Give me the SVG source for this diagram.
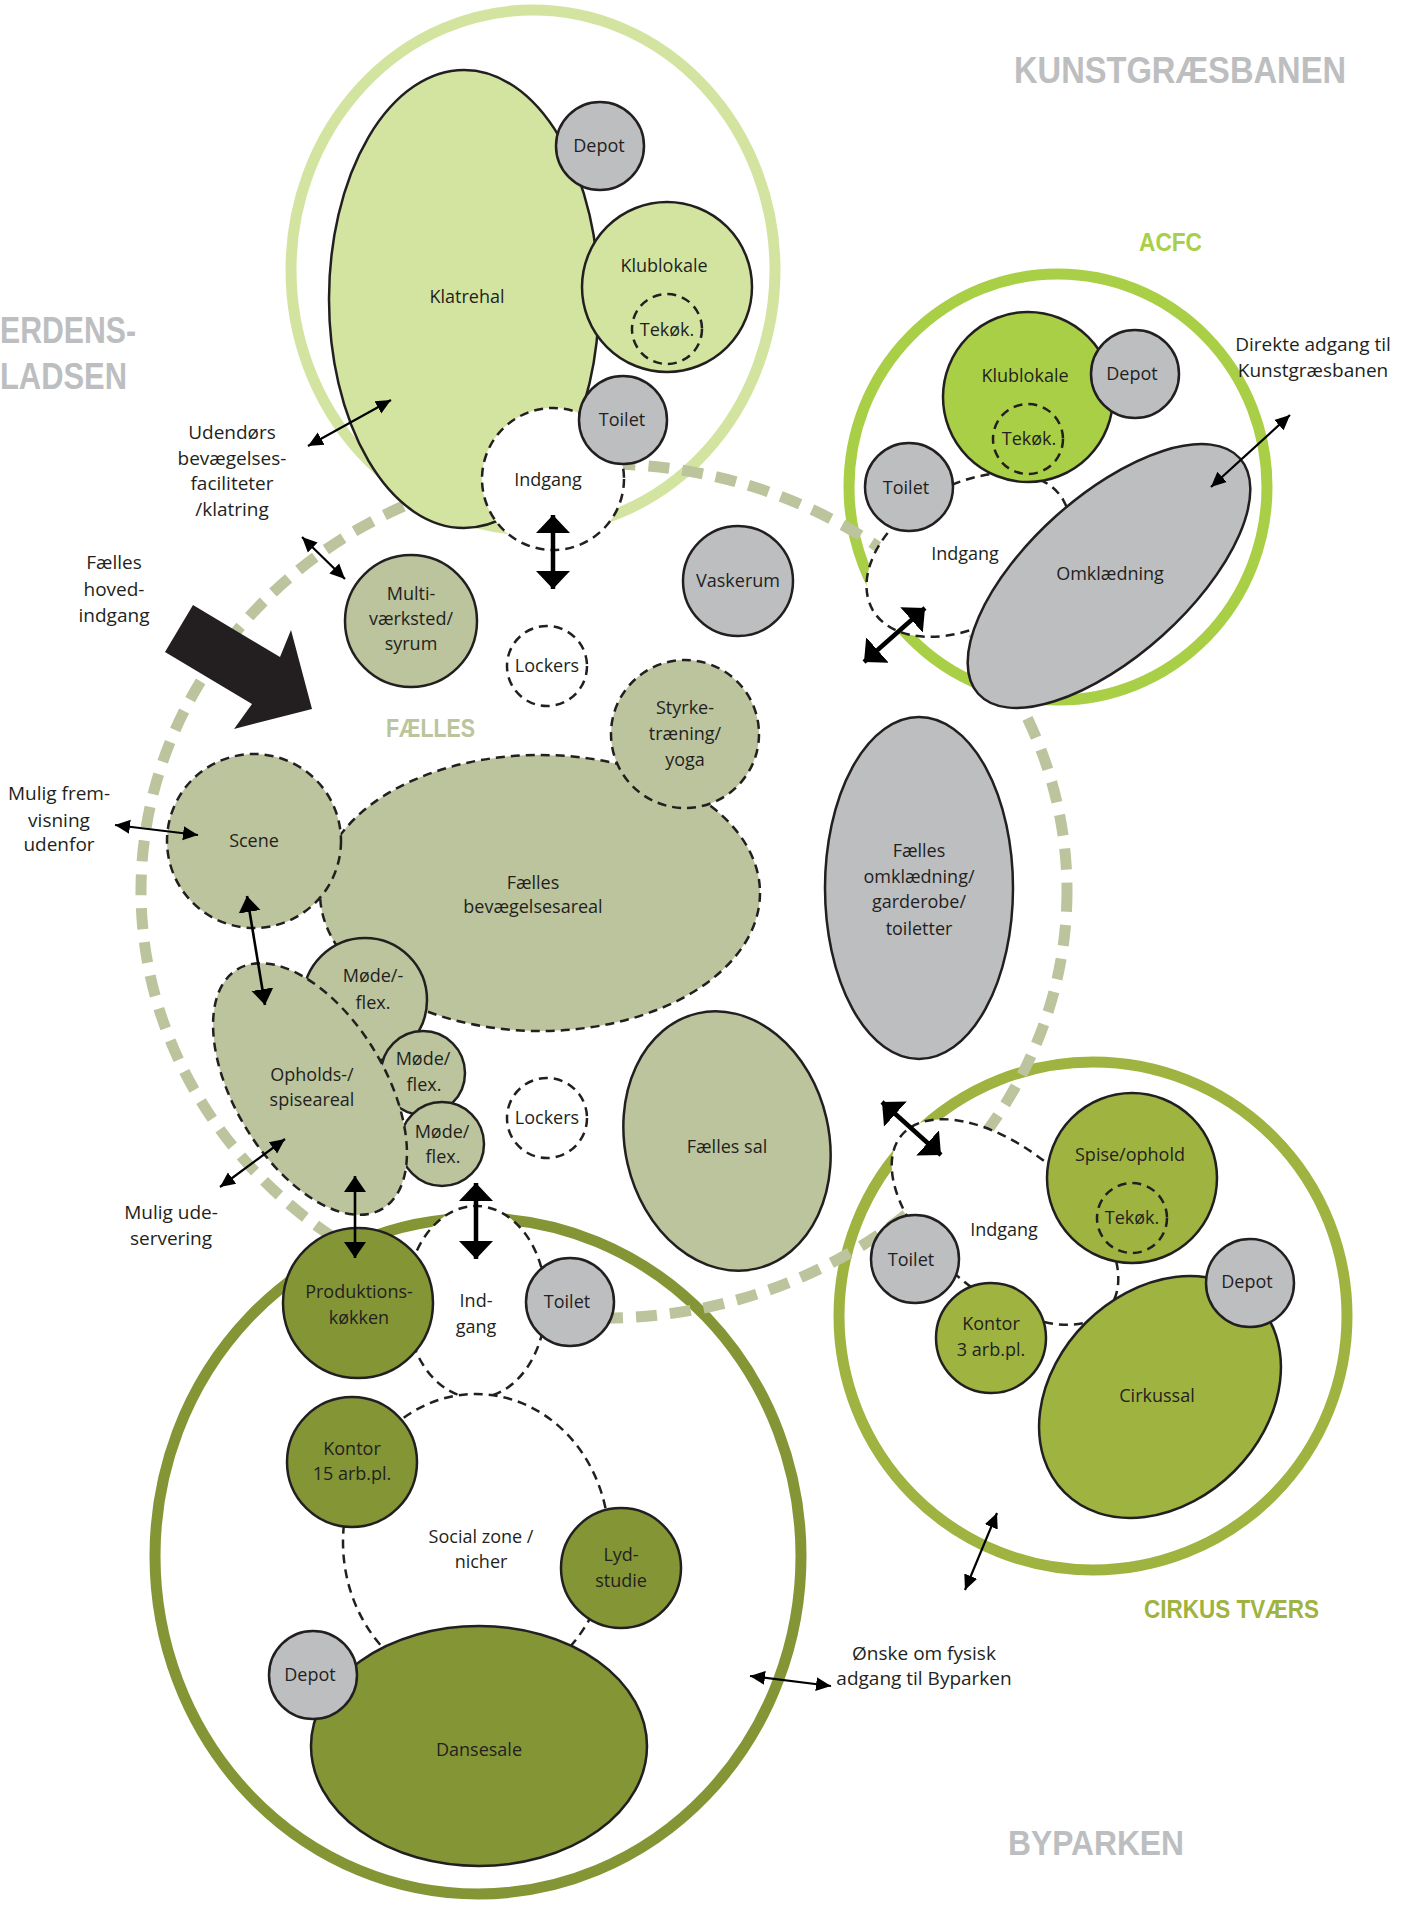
<svg xmlns="http://www.w3.org/2000/svg" width="1410" height="1905" viewBox="0 0 1410 1905">
<defs>
<style>
.t{font-family:"Open Sans","Noto Sans",sans-serif;font-size:18px;fill:#231f20;text-anchor:middle}
.a{font-size:19px}
.h{font-family:"Liberation Sans",Arial,sans-serif;font-weight:bold;text-anchor:start}
.n{stroke:#231f20;stroke-width:2.5}
.d{stroke-dasharray:9 6}
.gray{fill:#bcbec0}.lg{fill:#d3e4a1}.sage{fill:#bbc49c}.ac{fill:#a9cf46}.ol{fill:#849536}.ci{fill:#9fb340}.w{fill:#fff}
.ring{fill:none;stroke-width:11}
.arT{stroke:#000;stroke-width:2.2;fill:none;marker-start:url(#mT);marker-end:url(#mT)}
.arM{stroke:#000;stroke-width:2.6;fill:none;marker-start:url(#mM);marker-end:url(#mM)}
.arB{stroke:#000;stroke-width:4.5;fill:none;marker-start:url(#mB);marker-end:url(#mB)}
</style>
<marker id="mT" markerUnits="userSpaceOnUse" markerWidth="16" markerHeight="16" viewBox="0 -8 16 16" refX="15" refY="0" orient="auto-start-reverse"><path d="M0,-7 L15,0 L0,7 z" fill="#000"/></marker>
<marker id="mM" markerUnits="userSpaceOnUse" markerWidth="18" markerHeight="24" viewBox="0 -12 18 24" refX="16" refY="0" orient="auto-start-reverse"><path d="M0,-11 L16,0 L0,11 z" fill="#000"/></marker>
<marker id="mB" markerUnits="userSpaceOnUse" markerWidth="20" markerHeight="36" viewBox="0 -18 20 36" refX="18" refY="0" orient="auto-start-reverse"><path d="M0,-17 L18,0 L0,17 z" fill="#000"/></marker>
</defs>
<rect width="1410" height="1905" fill="#fff"/>

<!-- group outer rings -->
<g id="rings">
<ellipse cx="533" cy="270" rx="242" ry="260" class="ring" stroke="#d3e4a1"/>
<ellipse cx="1058" cy="487" rx="209" ry="213" class="ring" stroke="#a9cf46"/>
<ellipse cx="478" cy="1556" rx="323" ry="338" class="ring" stroke="#849536"/>
<circle cx="1093" cy="1316" r="254" class="ring" stroke="#9fb340"/>
</g>
<g id="faelles-ring">
<ellipse cx="604" cy="891" rx="463" ry="427" fill="none" stroke="#bbc49c" stroke-width="11" stroke-dasharray="21 13"/>
</g>

<!-- headings -->
<g id="headings">
<text class="h" x="1014" y="83" font-size="37" fill="#bcbec0" textLength="332" lengthAdjust="spacingAndGlyphs">KUNSTGRÆSBANEN</text>
<text class="h" x="0" y="343" font-size="36" fill="#bcbec0" textLength="136" lengthAdjust="spacingAndGlyphs">ERDENS-</text>
<text class="h" x="0" y="389" font-size="36" fill="#bcbec0" textLength="127" lengthAdjust="spacingAndGlyphs">LADSEN</text>
<text class="h" x="1139" y="251" font-size="25" fill="#a9cf46" textLength="63" lengthAdjust="spacingAndGlyphs">ACFC</text>
<text class="h" x="386" y="737" font-size="25" fill="#bbc49c" textLength="89" lengthAdjust="spacingAndGlyphs">FÆLLES</text>
<text class="h" x="1144" y="1618" font-size="25" fill="#9fb340" textLength="175" lengthAdjust="spacingAndGlyphs">CIRKUS TVÆRS</text>
<text class="h" x="1008" y="1855" font-size="35" fill="#bcbec0" textLength="176" lengthAdjust="spacingAndGlyphs">BYPARKEN</text>
</g>

<!-- Klatre group -->
<g id="klatrehal"><ellipse cx="464" cy="299" rx="135" ry="229" class="lg n"/><text class="t" x="467" y="303">Klatrehal</text></g>
<g id="klatre-depot"><circle cx="600" cy="146" r="44" class="gray n"/><text class="t" x="599" y="152">Depot</text></g>
<g id="klatre-klublokale"><circle cx="667" cy="287" r="85" class="lg n"/><text class="t" x="664" y="272">Klublokale</text>
<circle cx="667" cy="329" r="35" fill="none" class="n d"/><text class="t" x="667" y="336">Tekøk.</text></g>
<g id="klatre-indgang"><circle cx="553" cy="479" r="71" class="w n d"/><text class="t" x="548" y="486">Indgang</text></g>
<g id="klatre-toilet"><circle cx="623" cy="420" r="44" class="gray n"/><text class="t" x="622" y="426">Toilet</text></g>

<!-- Faelles -->
<g id="faelles-bevaegelsesareal"><ellipse cx="540" cy="893" rx="220" ry="138" class="sage n d"/><text class="t" x="533" y="889">Fælles</text><text class="t" x="533" y="913">bevægelsesareal</text></g>
<g id="scene"><circle cx="254" cy="841" r="87" class="sage n d"/><text class="t" x="254" y="847">Scene</text></g>
<g id="styrke"><circle cx="685" cy="734" r="74" class="sage n d"/><text class="t" x="685" y="714">Styrke-</text><text class="t" x="685" y="740">træning/</text><text class="t" x="685" y="766">yoga</text></g>
<g id="multi"><circle cx="411" cy="621" r="66" class="sage n"/><text class="t" x="411" y="600">Multi-</text><text class="t" x="411" y="625">værksted/</text><text class="t" x="411" y="650">syrum</text></g>
<g id="lockers1"><circle cx="547" cy="666" r="40" class="w n d"/><text class="t" x="547" y="672">Lockers</text></g>
<g id="vaskerum"><circle cx="738" cy="581" r="55" class="gray n"/><text class="t" x="738" y="587">Vaskerum</text></g>
<g id="mode1"><circle cx="365" cy="1000" r="62" class="sage n"/><text class="t" x="373" y="982">Møde/-</text><text class="t" x="373" y="1009">flex.</text></g>
<g id="mode2"><circle cx="423" cy="1073" r="42" class="sage n"/><text class="t" x="423" y="1065">Møde/</text><text class="t" x="424" y="1091">flex.</text></g>
<g id="mode3"><circle cx="442" cy="1144" r="42" class="sage n"/><text class="t" x="442" y="1138">Møde/</text><text class="t" x="443" y="1163">flex.</text></g>
<g id="opholds"><ellipse cx="310" cy="1089" rx="140" ry="75" transform="rotate(58.7 310 1089)" class="sage n d"/><text class="t" x="312" y="1081">Opholds-/</text><text class="t" x="312" y="1106">spiseareal</text></g>
<g id="lockers2"><circle cx="547" cy="1118" r="40" class="w n d"/><text class="t" x="547" y="1124">Lockers</text></g>
<g id="faelles-omklaedning"><ellipse cx="919" cy="888" rx="94" ry="171" class="gray n"/><text class="t" x="919" y="857">Fælles</text><text class="t" x="919" y="883">omklædning/</text><text class="t" x="919" y="908">garderobe/</text><text class="t" x="919" y="935">toiletter</text></g>
<g id="faelles-sal"><ellipse cx="727" cy="1141" rx="102" ry="131" transform="rotate(-13 727 1141)" class="sage n"/><text class="t" x="727" y="1153">Fælles sal</text></g>

<!-- ACFC -->
<g id="acfc-indgang"><ellipse cx="968" cy="555" rx="110" ry="70" transform="rotate(-30 968 555)" class="w n d"/><text class="t" x="965" y="560">Indgang</text></g>
<g id="acfc-klublokale"><circle cx="1028" cy="397" r="85" class="ac n"/><text class="t" x="1025" y="382">Klublokale</text>
<circle cx="1028" cy="439" r="35" fill="none" class="n d"/><text class="t" x="1029" y="445">Tekøk.</text></g>
<g id="acfc-depot"><circle cx="1135" cy="374" r="44" class="gray n"/><text class="t" x="1132" y="380">Depot</text></g>
<g id="acfc-toilet"><circle cx="909" cy="487" r="44" class="gray n"/><text class="t" x="906" y="494">Toilet</text></g>
<g id="acfc-omklaedning"><ellipse cx="1109" cy="576" rx="176" ry="80" transform="rotate(-42 1109 576)" class="gray n"/><text class="t" x="1110" y="580">Omklædning</text></g>

<!-- Byparken group -->
<g id="by-indgang"><ellipse cx="476" cy="1302" rx="70" ry="96" class="w n d"/><text class="t" x="476" y="1307">Ind-</text><text class="t" x="476" y="1333">gang</text></g>
<g id="social-zone"><ellipse cx="476" cy="1542" rx="133" ry="148" class="w n d"/><text class="t" x="481" y="1543">Social zone /</text><text class="t" x="481" y="1568">nicher</text></g>
<g id="produktionskokken"><circle cx="358" cy="1303" r="75" class="ol n"/><text class="t" x="359" y="1298">Produktions-</text><text class="t" x="359" y="1324">køkken</text></g>
<g id="by-toilet"><circle cx="570" cy="1302" r="44" class="gray n"/><text class="t" x="567" y="1308">Toilet</text></g>
<g id="kontor15"><circle cx="352" cy="1462" r="65" class="ol n"/><text class="t" x="352" y="1455">Kontor</text><text class="t" x="352" y="1480">15 arb.pl.</text></g>
<g id="lydstudie"><circle cx="621" cy="1568" r="60" class="ol n"/><text class="t" x="621" y="1561">Lyd-</text><text class="t" x="621" y="1587">studie</text></g>
<g id="dansesale"><ellipse cx="479" cy="1746" rx="168" ry="120" class="ol n"/><text class="t" x="479" y="1756">Dansesale</text></g>
<g id="by-depot"><circle cx="313" cy="1675" r="44" class="gray n"/><text class="t" x="310" y="1681">Depot</text></g>

<!-- Cirkus -->
<g id="cirkus-indgang"><ellipse cx="1005" cy="1222" rx="135" ry="72" transform="rotate(40 1005 1222)" class="w n d"/><text class="t" x="1004" y="1236">Indgang</text></g>
<g id="spise"><circle cx="1132" cy="1178" r="85" class="ci n"/><text class="t" x="1130" y="1161">Spise/ophold</text>
<circle cx="1132" cy="1218" r="35" fill="none" class="n d"/><text class="t" x="1132" y="1224">Tekøk.</text></g>
<g id="cirkus-toilet"><circle cx="915" cy="1259" r="44" class="gray n"/><text class="t" x="911" y="1266">Toilet</text></g>
<g id="kontor3"><circle cx="991" cy="1338" r="55" class="ci n"/><text class="t" x="991" y="1330">Kontor</text><text class="t" x="991" y="1356">3 arb.pl.</text></g>
<g id="cirkussal"><ellipse cx="1160" cy="1397" rx="135" ry="105" transform="rotate(-45 1160 1397)" class="ci n"/><text class="t" x="1157" y="1402">Cirkussal</text></g>
<g id="cirkus-depot"><circle cx="1250" cy="1283" r="44" class="gray n"/><text class="t" x="1247" y="1288">Depot</text></g>

<!-- annotations -->
<g id="labels">
<text class="t a" x="232" y="439">Udendørs</text><text class="t a" x="232" y="465">bevægelses-</text><text class="t a" x="232" y="490">faciliteter</text><text class="t a" x="232" y="516">/klatring</text>
<text class="t a" x="114" y="569">Fælles</text><text class="t a" x="114" y="596">hoved-</text><text class="t a" x="114" y="622">indgang</text>
<text class="t a" x="59" y="800">Mulig frem-</text><text class="t a" x="59" y="827">visning</text><text class="t a" x="59" y="851">udenfor</text>
<text class="t a" x="171" y="1219">Mulig ude-</text><text class="t a" x="171" y="1245">servering</text>
<text class="t a" x="924" y="1660">Ønske om fysisk</text><text class="t a" x="924" y="1685">adgang til Byparken</text>
<text class="t a" x="1313" y="351">Direkte adgang til</text><text class="t a" x="1313" y="377">Kunstgræsbanen</text>
</g>

<!-- connectors -->
<g id="connectors">
<polygon points="193,605 280,657 291,630 312,709 234,729 252,704 165,652" fill="#231f20"/>
<line class="arT" x1="308" y1="446" x2="391" y2="400"/>
<line class="arT" x1="302" y1="537" x2="345" y2="579"/>
<line class="arT" x1="115" y1="825" x2="198" y2="835"/>
<line class="arT" x1="220" y1="1187" x2="285" y2="1139"/>
<line class="arT" x1="1211" y1="487" x2="1290" y2="415"/>
<line class="arT" x1="750" y1="1676" x2="831" y2="1686"/>
<line class="arT" x1="997" y1="1513" x2="965" y2="1590"/>
<line class="arM" x1="247" y1="896" x2="265" y2="1005"/>
<line class="arM" x1="355" y1="1176" x2="355" y2="1258"/>
<line class="arB" x1="553" y1="515" x2="553" y2="589"/>
<line class="arB" x1="864" y1="662" x2="925" y2="608"/>
<line class="arB" x1="476" y1="1183" x2="476" y2="1259"/>
<line class="arB" x1="882" y1="1102" x2="941" y2="1155"/>
</g>
</svg>
